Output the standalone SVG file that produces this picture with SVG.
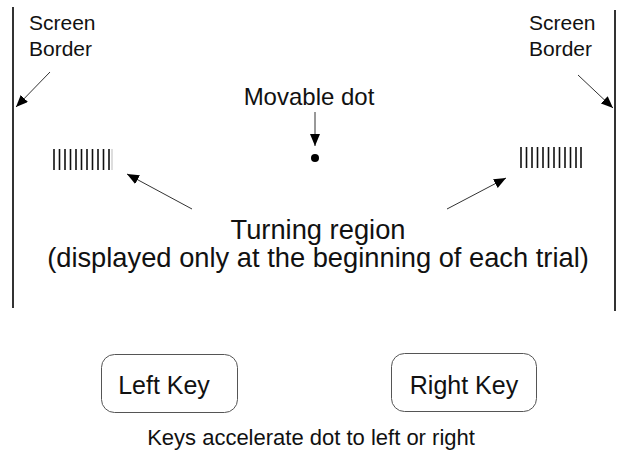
<svg xmlns="http://www.w3.org/2000/svg" width="623" height="464" viewBox="0 0 623 464">
<style>
text{font-family:"Liberation Sans",Arial,sans-serif;fill:#111;}
.lbl{font-size:21px;}
.big{font-size:27.3px;text-anchor:middle;}
.key{font-size:25px;text-anchor:middle;}
.mid{font-size:24px;text-anchor:middle;}
.cap{font-size:22px;text-anchor:middle;}
.border{stroke:#333;stroke-width:2;}
.conn{stroke:#333;stroke-width:1;fill:none;}
.box{fill:none;stroke:#555;stroke-width:1;}
.bar{stroke:#111;stroke-width:1.6;}
</style>
<defs>
<marker id="ah" viewBox="0 0 12 10" refX="12" refY="5" markerWidth="12" markerHeight="10" markerUnits="userSpaceOnUse" orient="auto">
<path d="M0,0 L12,5 L0,10 Z" fill="#000"/>
</marker>
</defs>
<rect width="623" height="464" fill="#fff"/>
<g id="left-border">
<line class="border" x1="13" y1="7" x2="13" y2="308"/>
<text class="lbl" x="29" y="30">Screen</text>
<text class="lbl" x="29" y="56">Border</text>
</g>
<g id="right-border">
<line class="border" x1="615" y1="10" x2="615" y2="311"/>
<text class="lbl" x="529" y="30">Screen</text>
<text class="lbl" x="529" y="56">Border</text>
</g>
<g id="movable-dot">
<text class="mid" x="309" y="105">Movable dot</text>
<circle cx="315" cy="158" r="4" fill="#000"/>
</g>
<g id="left-region">
<path class="bar" d="M54,149V170M59.5,149V170M65,149V170M70.5,149V170M76,149V170M81.5,149V170M87,149V170M92.5,149V170M98,149V170M103.5,149V170M109,149V170"/>
<line x1="112" y1="149" x2="112" y2="170" stroke="#bbb" stroke-width="1"/>
</g>
<g id="right-region">
<path class="bar" d="M521,147V168M526.5,147V168M532,147V168M537.5,147V168M543,147V168M548.5,147V168M554,147V168M559.5,147V168M565,147V168M570.5,147V168M576,147V168M581,147V168"/>
</g>
<g id="turning-label">
<text class="big" x="318" y="239">Turning region</text>
<text class="big" x="318" y="267">(displayed only at the beginning of each trial)</text>
</g>
<g id="left-key">
<rect class="box" x="101.5" y="354.5" width="136" height="58" rx="13"/>
<text class="key" x="164" y="394">Left Key</text>
</g>
<g id="right-key">
<rect class="box" x="391.5" y="353.5" width="145" height="58" rx="13"/>
<text class="key" x="464" y="394">Right Key</text>
</g>
<g id="caption">
<text class="cap" x="311" y="445">Keys accelerate dot to left or right</text>
</g>
<g id="connectors">
<line class="conn" x1="50" y1="72" x2="16" y2="107" marker-end="url(#ah)"/>
<line class="conn" x1="578" y1="75" x2="613" y2="108" marker-end="url(#ah)"/>
<line class="conn" x1="315" y1="112" x2="315" y2="146" marker-end="url(#ah)"/>
<line class="conn" x1="192" y1="209" x2="127" y2="174" marker-end="url(#ah)"/>
<line class="conn" x1="447" y1="209" x2="506" y2="178" marker-end="url(#ah)"/>
</g>
</svg>
